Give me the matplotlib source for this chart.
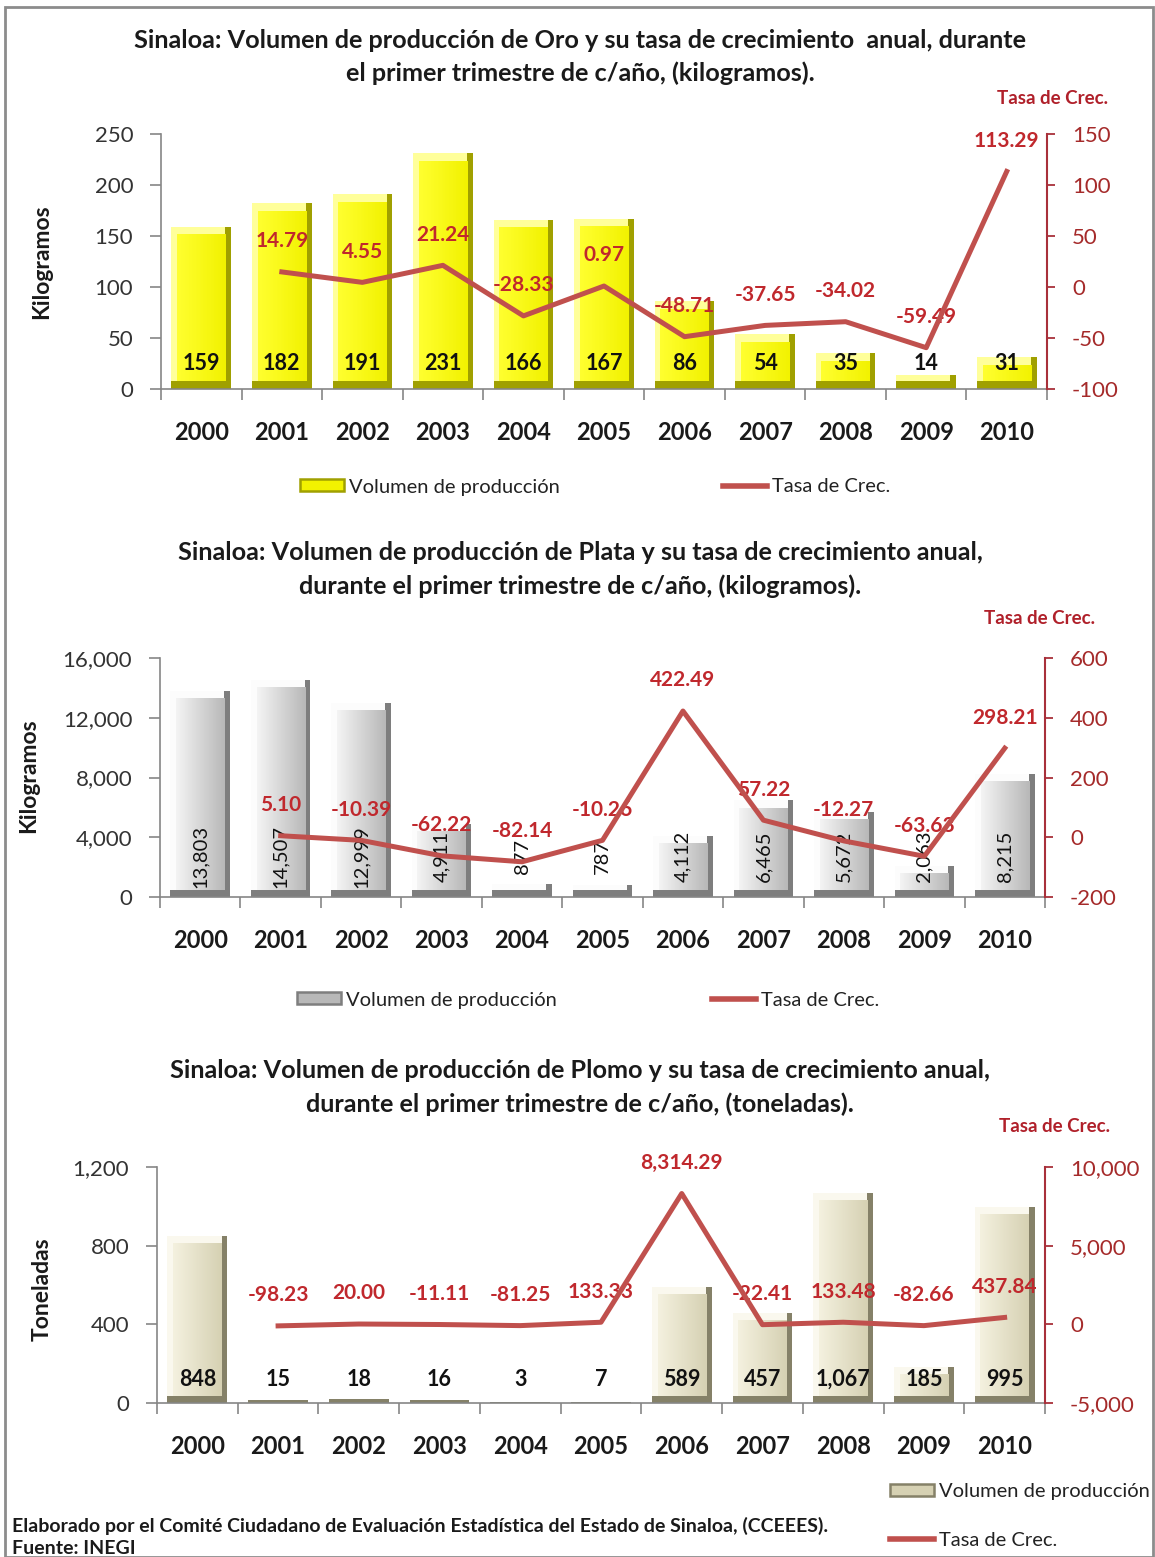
import numpy as np
import matplotlib.pyplot as plt
from matplotlib.patches import Patch, Rectangle
from matplotlib.lines import Line2D
from matplotlib.colors import LinearSegmentedColormap

plt.rcParams['font.family'] = ['Lato', 'DejaVu Sans']

years = [str(y) for y in range(2000, 2011)]

# Oro (kilogramos)
oro_vol = [159, 182, 191, 231, 166, 167, 86, 54, 35, 14, 31]
oro_tasa = [np.nan, 14.79, 4.55, 21.24, -28.33, 0.97, -48.71, -37.65, -34.02, -59.49, 113.29]

# Plata (kilogramos)
plata_vol = [13803, 14507, 12999, 4911, 877, 787, 4112, 6465, 5672, 2063, 8215]
plata_tasa = [np.nan, 5.10, -10.39, -62.22, -82.14, -10.26, 422.49, 57.22, -12.27, -63.63, 298.21]

# Plomo (toneladas)
plomo_vol = [848, 15, 18, 16, 3, 7, 589, 457, 1067, 185, 995]
plomo_tasa = [np.nan, -98.23, 20.00, -11.11, -81.25, 133.33, 8314.29, -22.41, 133.48, -82.66, 437.84]

LINE = '#C0504D'
LABEL_RED = '#C0282D'
AXIS_RED = '#A8303A'
GRAY = '#868686'

W, H = 1155, 1557
fig = plt.figure(figsize=(W / 100, H / 100), dpi=100)


def box(l, t, r, b):
    return [l / W, 1 - b / H, (r - l) / W, (b - t) / H]


def bevel_bars(ax, vals, face_l, face_r, light, dark, span, width=0.74):
    # bar with a light top/left edge, dark right/bottom edge and shaded face
    x = np.arange(len(vals))
    vals = np.asarray(vals, float)
    bx = 0.07
    by = span * 0.03
    ax.bar(x, vals, width, color=dark, zorder=2)
    ax.bar(x - bx / 2, np.clip(vals - by, 0, None), width - bx, bottom=by,
           color=light, zorder=2)
    inner = ax.bar(x, np.clip(vals - 2 * by, 0, None), width - 2 * bx, bottom=by,
                   color=face_l, zorder=2)
    cmap = LinearSegmentedColormap.from_list('face', [face_l, face_r])
    grad = np.linspace(0, 1, 64).reshape(1, -1)
    for p in inner.patches:
        if p.get_height() <= 0:
            continue
        x0, y0 = p.get_x(), p.get_y()
        im = ax.imshow(grad, cmap=cmap, aspect='auto', zorder=2.5,
                       extent=(x0, x0 + p.get_width(), y0, y0 + p.get_height()))
        im.set_clip_path(p)


def panel(rect, vol, tasa, ylim, yticks, y2lim, y2ticks, colors,
          lab_y, lab_rot, lab_bold):
    ax = fig.add_axes(box(*rect))
    ax2 = ax.twinx()
    x = np.arange(len(years))
    bevel_bars(ax, vol, *colors, span=ylim[1] - ylim[0])

    ax.set_xlim(-0.5, 10.5)
    ax.set_ylim(*ylim)
    ax.set_yticks(yticks)
    ax.set_yticklabels([f'{t:,}' for t in yticks])
    ax.set_xticks(x)
    ax.set_xticklabels(years, fontweight='bold', fontsize=17, color='#1a1a1a')
    ax.set_xticks(np.arange(-0.5, 11, 1), minor=True)
    ax.tick_params(axis='x', which='major', length=0, pad=23)
    ax.tick_params(axis='x', which='minor', length=8, color=GRAY, width=1.2)
    ax.tick_params(axis='y', length=8, color=GRAY, width=1.2, labelsize=16,
                   labelcolor='#333333', pad=12)
    for s in ['top', 'right']:
        ax.spines[s].set_visible(False)
    for s in ['left', 'bottom']:
        ax.spines[s].set_color(GRAY)
        ax.spines[s].set_linewidth(1.2)

    for xi, v in zip(x, vol):
        ax.text(xi, lab_y, f'{v:,}', transform=ax.get_xaxis_transform(),
                ha='center', va='center', rotation=lab_rot,
                fontsize=15.5 if lab_bold else 14.5,
                fontweight='bold' if lab_bold else 'normal', color='#111111',
                zorder=5)

    ax2.set_ylim(*y2lim)
    ax2.set_yticks(y2ticks)
    ax2.set_yticklabels([f'{t:,}' for t in y2ticks])
    ax2.plot(x, tasa, color=LINE, lw=3.6, zorder=4)
    for xi, v in zip(x, tasa):
        if np.isnan(v):
            continue
        ax2.annotate(f'{v:,.2f}', (xi, v), xytext=(0, 22),
                     textcoords='offset points', ha='center', va='center',
                     color=LABEL_RED, fontweight='bold', fontsize=15, zorder=3)
    for s in ['top', 'left', 'bottom']:
        ax2.spines[s].set_visible(False)
    ax2.spines['right'].set_color(AXIS_RED)
    ax2.spines['right'].set_linewidth(1.5)
    ax2.tick_params(axis='y', length=6, color=AXIS_RED, width=1.3,
                    labelsize=16, labelcolor='#A52A2A', pad=12)
    return ax, ax2


# face left, face right, light edge, dark edge
yellow = ('#FFFF30', '#F2F200', '#FFFF9A', '#A0A000')
silver = ('#F4F4F4', '#B8B8B8', '#FCFCFC', '#7E7E7E')
beige = ('#F4F1DF', '#D6D1B3', '#FAF8EE', '#858168')

panel((161, 134, 1047, 389), oro_vol, oro_tasa, (0, 250),
      range(0, 251, 50), (-100, 150), range(-100, 151, 50), yellow, 0.1, 0, True)
panel((160, 658, 1045, 897), plata_vol, plata_tasa, (0, 16000),
      range(0, 16001, 4000), (-200, 600), range(-200, 601, 200), silver, 0.17, 90, False)
panel((157, 1167, 1045, 1403), plomo_vol, plomo_tasa, (0, 1200),
      range(0, 1201, 400), (-5000, 10000), range(-5000, 10001, 5000), beige, 0.1, 0, True)

for lab, xc, yc in [('Kilogramos', 42, 262), ('Kilogramos', 29, 776), ('Toneladas', 42, 1289)]:
    fig.text(xc / W, 1 - yc / H, lab, rotation=90, ha='center', va='center',
             fontsize=16.5, fontweight='bold', color='#1a1a1a')

# titles
titles = [
    ('Sinaloa: Volumen de producción de Oro y su tasa de crecimiento  anual, durante', 40),
    ('el primer trimestre de c/año, (kilogramos).', 73),
    ('Sinaloa: Volumen de producción de Plata y su tasa de crecimiento anual,', 553),
    ('durante el primer trimestre de c/año, (kilogramos).', 586),
    ('Sinaloa: Volumen de producción de Plomo y su tasa de crecimiento anual,', 1070),
    ('durante el primer trimestre de c/año, (toneladas).', 1104),
]
for t, y in titles:
    fig.text(580 / W, 1 - y / H, t, ha='center', va='center', fontsize=18.2,
             fontweight='bold', color='#1a1a1a')

for xr, y in [(1108, 98), (1095, 618), (1110, 1127)]:
    fig.text(xr / W, 1 - y / H, 'Tasa de Crec.', ha='right', va='center',
             fontsize=13.5, fontweight='bold', color='#B0202A')


# legends
def leg(handle, label, xl, y):
    lg = fig.legend(handles=[handle], labels=[label], loc='center left',
                    bbox_to_anchor=(xl / W, 1 - y / H), frameon=False,
                    fontsize=14.5, handlelength=2.2, handleheight=0.55,
                    handletextpad=0.25, borderpad=0, borderaxespad=0)
    for txt in lg.get_texts():
        txt.set_color('#222222')


def bar_handle(c):
    return Patch(facecolor=c[1], edgecolor=c[3], linewidth=1.8)


line_handle = Line2D([], [], color=LINE, lw=4)

leg(bar_handle(yellow), 'Volumen de producción', 300, 487)
leg(line_handle, 'Tasa de Crec.', 723, 487)
leg(bar_handle(silver), 'Volumen de producción', 297, 1000)
leg(line_handle, 'Tasa de Crec.', 712, 1000)
leg(bar_handle(beige), 'Volumen de producción', 890, 1492)
leg(line_handle, 'Tasa de Crec.', 890, 1540)

fig.text(12 / W, 1 - 1526 / H,
         'Elaborado por el Comité Ciudadano de Evaluación Estadística del Estado de Sinaloa, (CCEEES).',
         ha='left', va='center', fontsize=14, fontweight='bold', color='#1a1a1a')
fig.text(12 / W, 1 - 1549 / H, 'Fuente: INEGI', ha='left', va='center',
         fontsize=14, fontweight='bold', color='#1a1a1a')

fig.patches.append(Rectangle((5 / W, 0), 1 - 7 / W, 1 - 7 / H,
                             transform=fig.transFigure, fill=False,
                             edgecolor='#8C8C8C', linewidth=2))

fig.savefig('out.png', dpi=100)
